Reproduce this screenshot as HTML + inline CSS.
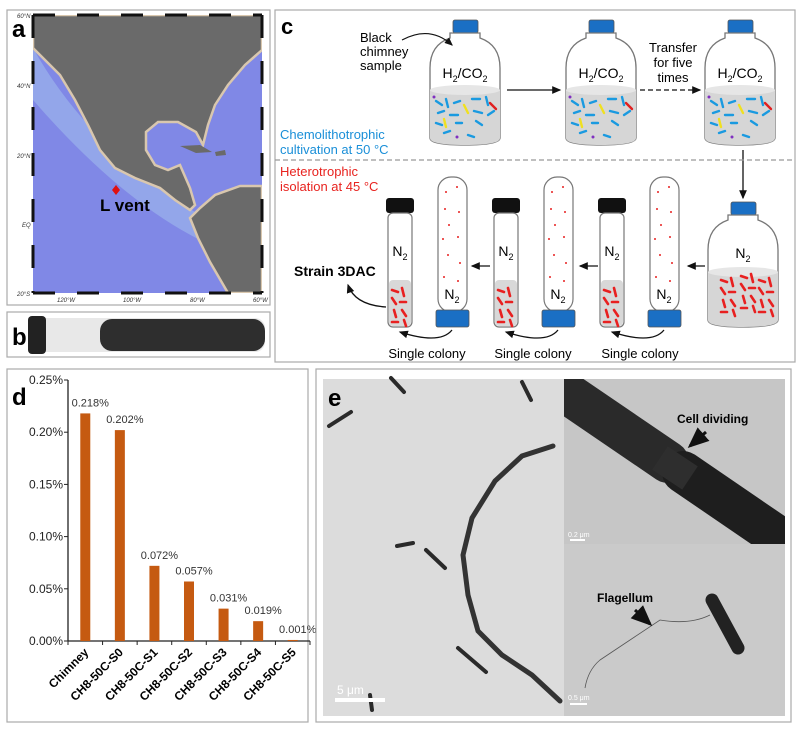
<!DOCTYPE html>
<html><head><meta charset="utf-8"><style>
body{margin:0;background:#fff;}
svg{display:block;font-family:"Liberation Sans",sans-serif;}
</style></head><body>
<svg id="fig" width="800" height="730" viewBox="0 0 800 730">
<defs>
<clipPath id="clipTop"><rect x="564" y="379" width="221" height="165"/></clipPath>
<clipPath id="clipMap"><rect x="33" y="15" width="229" height="278"/></clipPath>
<marker id="ah" markerWidth="8" markerHeight="8" refX="6" refY="4" orient="auto"><path d="M0,1 L7,4 L0,7 Z" fill="#111"/></marker>
<g id="bottle">
<rect x="23" y="-13" width="25" height="13" rx="2" fill="#1a6fc4" stroke="#555" stroke-width="0.8"/>
<path d="M20 0 L50 0 L50 5 Q70 12 70 35 L70 105 Q70 112 35 112 Q0 112 0 105 L0 35 Q0 12 20 5 Z" fill="#fff" stroke="#777" stroke-width="1.3"/>
<path d="M0 57 Q35 50 70 57 L70 105 Q70 112 35 112 Q0 112 0 105 Z" fill="#d6d6d6"/>
<ellipse cx="35" cy="57" rx="35" ry="5" fill="#e6e6e6"/>
</g>
<g id="bluecells" stroke="#1a9ae0" stroke-width="2.4" stroke-linecap="round">
<line x1="6" y1="68" x2="12" y2="72"/><line x1="16" y1="66" x2="18" y2="74"/><line x1="24" y1="70" x2="30" y2="68"/><line x1="42" y1="66" x2="50" y2="66"/><line x1="56" y1="64" x2="58" y2="72"/>
<line x1="8" y1="80" x2="14" y2="78"/><line x1="20" y1="82" x2="28" y2="82"/><line x1="44" y1="78" x2="52" y2="80"/><line x1="58" y1="82" x2="64" y2="78"/>
<line x1="6" y1="90" x2="12" y2="92"/><line x1="26" y1="90" x2="32" y2="90"/><line x1="46" y1="88" x2="52" y2="92"/><line x1="38" y1="102" x2="44" y2="104"/><line x1="14" y1="100" x2="20" y2="98"/>
<line x1="34" y1="72" x2="38" y2="80" stroke="#f0e020"/><line x1="14" y1="86" x2="16" y2="94" stroke="#f0e020"/><line x1="60" y1="70" x2="66" y2="76" stroke="#e02020"/>
<circle cx="4" cy="64" r="1.5" fill="#8030c0" stroke="none"/><circle cx="27" cy="104" r="1.5" fill="#8030c0" stroke="none"/>
</g>
<g id="redcells" stroke="#e82020" stroke-width="2.6" stroke-linecap="round">
<line x1="4" y1="0" x2="10" y2="2"/><line x1="14" y1="-2" x2="16" y2="6"/><line x1="4" y1="8" x2="8" y2="14"/><line x1="12" y1="12" x2="18" y2="12"/><line x1="6" y1="20" x2="8" y2="27"/><line x1="14" y1="20" x2="18" y2="26"/><line x1="4" y1="32" x2="10" y2="32"/><line x1="16" y1="30" x2="18" y2="36"/>
</g>
<g id="smalltube">
<rect x="-1" y="0" width="28" height="15" rx="3" fill="#111"/>
<rect x="1" y="15" width="24" height="114" rx="5" fill="#fff" stroke="#777" stroke-width="1.2"/>
<rect x="2" y="82" width="22" height="46" rx="4" fill="#d8d8d8"/>
<use href="#redcells" x="1" y="92"/>
<text x="13" y="58" text-anchor="middle" font-size="14">N<tspan font-size="9" dy="4">2</tspan></text>
</g>
<g id="talltube">
<rect x="2" y="0" width="29" height="135" rx="13" fill="#fff" stroke="#777" stroke-width="1.2"/>
<rect x="0" y="133" width="33" height="17" rx="2" fill="#1a6fc4" stroke="#555" stroke-width="0.8"/>
<g fill="#e82020"><circle cx="10" cy="15" r="1"/><circle cx="21" cy="10" r="1"/><circle cx="9" cy="32" r="1"/><circle cx="23" cy="35" r="1"/><circle cx="13" cy="48" r="1"/><circle cx="7" cy="62" r="1"/><circle cx="22" cy="60" r="1"/><circle cx="12" cy="78" r="1"/><circle cx="24" cy="86" r="1"/><circle cx="8" cy="100" r="1"/><circle cx="22" cy="104" r="1"/></g>
<text x="16" y="122" text-anchor="middle" font-size="14">N<tspan font-size="9" dy="4">2</tspan></text>
</g>
</defs>

<!-- panel a -->
<g>
<rect x="7" y="10" width="263" height="295" fill="#fff" stroke="#aaa" stroke-width="1.2"/>
<rect x="33" y="15" width="229" height="278" fill="#8088e6"/>
<g clip-path="url(#clipMap)">
<path d="M33 48 Q90 150 200 215 L200 240 Q120 200 33 100 Z" fill="#93a6ea"/>
<polygon points="33,15 262,15 262,50 245,65 228,85 215,105 208,125 203,145 196,132 178,122 158,122 146,132 146,150 155,165 168,170 180,165 190,188 195,205 190,210 175,200 160,188 135,178 115,168 100,150 88,125 75,100 60,75 45,60 33,48" fill="#6a6a6a" stroke="#d9c7ae" stroke-width="2.5"/>
<polygon points="190,218 200,208 215,195 240,186 262,186 262,293 228,293 210,262 198,238" fill="#6a6a6a" stroke="#d9c7ae" stroke-width="2.5"/>
<polygon points="180,146 200,145 212,152 196,153" fill="#6a6a6a"/>
<polygon points="215,152 225,150 226,155 216,156" fill="#6a6a6a"/>
</g>
<g stroke="#111" stroke-width="3"><line x1="33" y1="15" x2="33" y2="293" stroke-dasharray="23 23"/><line x1="33" y1="293" x2="262" y2="293" stroke-dasharray="22 22"/><line x1="33" y1="15" x2="262" y2="15" stroke-dasharray="22 22"/><line x1="262" y1="15" x2="262" y2="293" stroke-dasharray="23 23"/></g>
<polygon points="116,185 120,190 116,195 112,190" fill="#e01010"/>
<text x="100" y="211" font-size="17" font-weight="bold">L vent</text>
<text x="12" y="37" font-size="24" font-weight="bold">a</text>
<g font-size="6" font-style="italic" fill="#333"><text x="17" y="18">60°N</text><text x="17" y="88">40°N</text><text x="17" y="158">20°N</text><text x="22" y="227">EQ</text><text x="17" y="296">20°S</text><text x="57" y="302">120°W</text><text x="123" y="302">100°W</text><text x="190" y="302">80°W</text><text x="253" y="302">60°W</text></g>
</g>
<!-- panel b -->
<g>
<rect x="7" y="312" width="263" height="45" fill="#fff" stroke="#aaa" stroke-width="1.2"/>
<rect x="28" y="318" width="237" height="34" rx="10" fill="#e8e8e8"/>
<rect x="100" y="319" width="165" height="32" rx="12" fill="#2e2e2e"/>
<rect x="28" y="316" width="18" height="38" rx="4" fill="#222"/>
<text x="12" y="345" font-size="24" font-weight="bold">b</text>
</g>
<!-- panel c -->
<g>
<rect x="275" y="10" width="520" height="352" fill="#fff" stroke="#aaa" stroke-width="1.2"/>
<text x="281" y="34" font-size="22" font-weight="bold">c</text>
<use href="#bottle" x="430" y="33"/><use href="#bluecells" x="430" y="33"/>
<use href="#bottle" x="566" y="33"/><use href="#bluecells" x="566" y="33"/>
<use href="#bottle" x="705" y="33"/><use href="#bluecells" x="705" y="33"/>
<use href="#bottle" x="708" y="215"/>
<use href="#redcells" x="717" y="280"/><use href="#redcells" x="737" y="276"/><use href="#redcells" x="755" y="280"/>
<g font-size="14" text-anchor="middle"><text x="465" y="78">H<tspan font-size="9" dy="4">2</tspan><tspan dy="-4">/CO</tspan><tspan font-size="9" dy="4">2</tspan></text><text x="601" y="78">H<tspan font-size="9" dy="4">2</tspan><tspan dy="-4">/CO</tspan><tspan font-size="9" dy="4">2</tspan></text><text x="740" y="78">H<tspan font-size="9" dy="4">2</tspan><tspan dy="-4">/CO</tspan><tspan font-size="9" dy="4">2</tspan></text><text x="743" y="258">N<tspan font-size="9" dy="4">2</tspan></text></g>
<g font-size="13"><text x="360" y="42">Black</text><text x="360" y="56">chimney</text><text x="360" y="70">sample</text></g>
<path d="M402 40 Q430 25 452 45" fill="none" stroke="#111" stroke-width="1.2" marker-end="url(#ah)"/>
<g font-size="13" text-anchor="middle"><text x="673" y="52">Transfer</text><text x="673" y="67">for five</text><text x="673" y="82">times</text></g>
<line x1="507" y1="90" x2="560" y2="90" stroke="#111" stroke-width="1.3" marker-end="url(#ah)"/>
<line x1="640" y1="90" x2="700" y2="90" stroke="#111" stroke-width="1.3" stroke-dasharray="5 3" marker-end="url(#ah)"/>
<line x1="743" y1="150" x2="743" y2="198" stroke="#111" stroke-width="1.3" marker-end="url(#ah)"/>
<line x1="275" y1="160" x2="795" y2="160" stroke="#999" stroke-width="1.3" stroke-dasharray="5 3"/>
<g font-size="13" fill="#1a8fd8"><text x="280" y="139">Chemolithotrophic</text><text x="280" y="154">cultivation at 50 °C</text></g>
<g font-size="13" fill="#e8231f"><text x="280" y="176">Heterotrophic</text><text x="280" y="191">isolation at 45 °C</text></g>
<use href="#smalltube" x="387" y="198"/><use href="#talltube" x="436" y="177"/>
<use href="#smalltube" x="493" y="198"/><use href="#talltube" x="542" y="177"/>
<use href="#smalltube" x="599" y="198"/><use href="#talltube" x="648" y="177"/>
<g stroke="#111" stroke-width="1.3" fill="none">
<line x1="705" y1="266" x2="688" y2="266" marker-end="url(#ah)"/>
<line x1="598" y1="266" x2="580" y2="266" marker-end="url(#ah)"/>
<line x1="490" y1="266" x2="472" y2="266" marker-end="url(#ah)"/>
<path d="M452 330 Q440 345 400 332" marker-end="url(#ah)"/>
<path d="M558 330 Q546 345 506 332" marker-end="url(#ah)"/>
<path d="M664 330 Q652 345 612 332" marker-end="url(#ah)"/>
<path d="M386 307 Q355 305 348 285" marker-end="url(#ah)"/>
</g>
<text x="294" y="276" font-size="14" font-weight="bold">Strain 3DAC</text>
<g font-size="13" text-anchor="middle"><text x="427" y="358">Single colony</text><text x="533" y="358">Single colony</text><text x="640" y="358">Single colony</text></g>
</g>
<!-- panel d -->
<g id="panel-d">
<rect x="7" y="369" width="301" height="353" fill="#fff" stroke="#aaa" stroke-width="1.2"/>
<text x="12" y="405" font-size="24" font-weight="bold">d</text>
</g>
<!-- panel e -->
<g>
<rect x="316" y="369" width="475" height="353" fill="#fff" stroke="#aaa" stroke-width="1.2"/>
<rect x="323" y="379" width="462" height="337" fill="#dcdcdc"/>
<rect x="564" y="379" width="221" height="165" fill="#c6c6c6"/>
<rect x="564" y="544" width="221" height="172" fill="#cacaca"/>
<g clip-path="url(#clipTop)">
<line x1="555" y1="385" x2="668" y2="462" stroke="#2a2a2a" stroke-width="42" stroke-linecap="round"/>
<line x1="683" y1="472" x2="800" y2="552" stroke="#1e1e1e" stroke-width="42" stroke-linecap="round"/>
<line x1="660" y1="458" x2="690" y2="478" stroke="#2e2e2e" stroke-width="28"/>
</g>
<path d="M553 446 L522 456 L495 481 L472 518 L463 555 L468 595 L478 631 L502 655 L532 675 L560 701" fill="none" stroke="#333" stroke-width="5" stroke-linecap="round"/>
<g stroke="#2a2a2a" stroke-width="4" stroke-linecap="round">
<line x1="329" y1="426" x2="351" y2="412"/><line x1="391" y1="378" x2="404" y2="392"/><line x1="522" y1="382" x2="531" y2="400"/><line x1="397" y1="546" x2="413" y2="543"/><line x1="426" y1="550" x2="445" y2="568"/><line x1="458" y1="648" x2="486" y2="672"/><line x1="370" y1="695" x2="372" y2="710"/>
</g>
<line x1="712" y1="600" x2="738" y2="648" stroke="#222" stroke-width="13" stroke-linecap="round"/>
<path d="M710 615 Q690 625 660 620 Q630 640 600 660 Q588 670 585 688" fill="none" stroke="#555" stroke-width="0.8"/>
<rect x="335" y="698" width="50" height="4" fill="#fff"/>
<text x="337" y="694" font-size="12" fill="#fff">5 μm</text>
<text x="568" y="537" font-size="7" fill="#fff">0.2 μm</text><rect x="570" y="539" width="15" height="2" fill="#fff"/>
<text x="568" y="700" font-size="7" fill="#fff">0.5 μm</text><rect x="570" y="703" width="17" height="2" fill="#fff"/>
<text x="677" y="423" font-size="12" font-weight="bold">Cell dividing</text>
<line x1="706" y1="432" x2="690" y2="446" stroke="#111" stroke-width="3" marker-end="url(#ah)"/>
<text x="597" y="602" font-size="12" font-weight="bold">Flagellum</text>
<line x1="635" y1="610" x2="650" y2="624" stroke="#111" stroke-width="3" marker-end="url(#ah)"/>
<text x="328" y="406" font-size="24" font-weight="bold">e</text>
</g>
</svg>
<script>
var categories = ["Chimney","CH8-50C-S0","CH8-50C-S1","CH8-50C-S2","CH8-50C-S3","CH8-50C-S4","CH8-50C-S5"];
var values = [0.218,0.202,0.072,0.057,0.031,0.019,0.001];
var valueLabels = ["0.218%","0.202%","0.072%","0.057%","0.031%","0.019%","0.001%"];
var yTicks = [0,0.05,0.10,0.15,0.20,0.25];
var yTickLabels = ["0.00%","0.05%","0.10%","0.15%","0.20%","0.25%"];
(function(){
var NS="http://www.w3.org/2000/svg", g=document.getElementById('panel-d');
var x0=68, x1=310, y0=641, yTop=380, yMax=0.25;
var step=(x1-x0)/categories.length;
function ys(v){return y0-(v/yMax)*(y0-yTop);}
function xc(i){return x0+step*(i+0.5);}
function mk(t,a){var e=document.createElementNS(NS,t);for(var k in a)e.setAttribute(k,a[k]);g.appendChild(e);return e;}
var ax=mk('line',{x1:x0,y1:yTop,x2:x0,y2:y0,stroke:'#222','stroke-width':1.3});


var bx=mk('line',{x1:x0,y1:y0,x2:x1,y2:y0,stroke:'#222','stroke-width':1.3});


yTicks.forEach(function(t,i){
 var tk=mk('line',{x1:x0-4,y1:ys(t),x2:x0,y2:ys(t),stroke:'#222'});
 
 
 var tl=mk('text',{x:x0-5,y:ys(t)+4,'text-anchor':'end','font-size':12,fill:'#222'});
 tl.textContent=yTickLabels[i];
 
 
});
for(var k=0;k<=categories.length;k++){
 var xt=mk('line',{x1:x0+step*k,y1:y0,x2:x0+step*k,y2:y0+4,stroke:'#222'});
 
 
}
categories.forEach(function(c,i){
 var bw=10, top=ys(values[i]);
 var b=mk('rect',{x:xc(i)-bw/2,y:top,width:bw,height:Math.max(y0-top,0.8),fill:'#c55a11'});
 
 
 var vl=mk('text',{x:xc(i)+5,y:top-7,'text-anchor':'middle','font-size':11,fill:'#333'});
 vl.textContent=valueLabels[i];
 
 
 var cl=mk('text',{x:xc(i)+4,y:y0+12,'text-anchor':'end','font-size':12,'font-weight':'bold',transform:'rotate(-45 '+(xc(i)+4)+' '+(y0+12)+')'});
 cl.textContent=c;
 
 
});
})();
</script>
</body></html>
